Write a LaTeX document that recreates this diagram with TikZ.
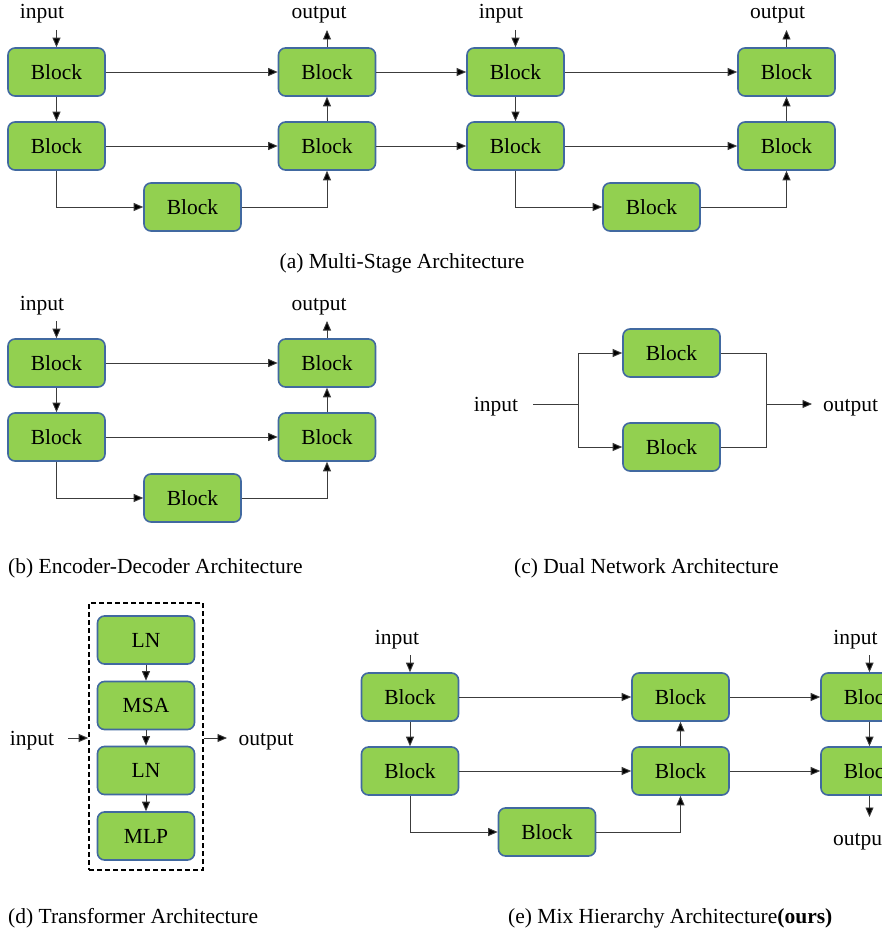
\documentclass[tikz,border=0pt]{standalone}
\usepackage{fontspec}
\setmainfont{Liberation Serif}
\usetikzlibrary{arrows.meta}
\definecolor{blkfill}{RGB}{146,208,80}
\definecolor{blkedge}{RGB}{65,105,160}
\definecolor{lnc}{RGB}{60,60,60}
\newcommand{\fs}{\fontsize{21.5}{24}\selectfont}
\tikzset{
  blk/.style={draw=blkedge, fill=blkfill, line width=1.6, rounded corners=7,
    minimum width=97, minimum height=48, inner sep=0, font=\fs},
  con/.style={draw=lnc, line width=0.9},
  arr/.style={con, -{Triangle[length=9.5,width=8,fill=black]}},
  lbl/.style={inner sep=0, anchor=base, font=\fs},
  lblw/.style={inner sep=0, anchor=base west, font=\fs},
  dbox/.style={draw=black, dash pattern=on 5 off 3, line width=1.6,
    minimum width=114, minimum height=267, inner sep=0}
}
\begin{document}
\begin{tikzpicture}[x=1pt,y=-1pt]
\clip (0,0) rectangle (882,934);
% ---------------- (a) ----------------
\node[blk] (a1) at (56.5,72) {Block};
\node[blk] (a2) at (56.5,146) {Block};
\node[blk] (a3) at (192.5,207) {Block};
\node[blk] (a4) at (327,72) {Block};
\node[blk] (a5) at (327,146) {Block};
\node[blk] (a6) at (515.5,72) {Block};
\node[blk] (a7) at (515.5,146) {Block};
\node[blk] (a8) at (651.5,207) {Block};
\node[blk] (a9) at (786.5,72) {Block};
\node[blk] (a10) at (786.5,146) {Block};
\node[lbl] (ain) at (42,19) {input};
\node[lbl] (aout) at (319,19) {output};
\node[lbl] (ain2) at (501,19) {input};
\node[lbl] (aout2) at (777.5,19) {output};
\coordinate (ainc) at (56.5,30);
\coordinate (aoutc) at (327,30);
\coordinate (ain2c) at (515.5,30);
\coordinate (aout2c) at (786.5,30);
\draw[arr] (ainc) -- (a1.north);
\draw[arr] (a1.south) -- (a2.north);
\draw[arr] (a1.east) -- (a4.west);
\draw[arr] (a2.east) -- (a5.west);
\draw[arr] (a2.south) |- (a3.west);
\draw[arr] (a3.east) -| (a5.south);
\draw[arr] (a5.north) -- (a4.south);
\draw[arr] (a4.north) -- (aoutc);
\draw[arr] (a4.east) -- (a6.west);
\draw[arr] (a5.east) -- (a7.west);
\draw[arr] (ain2c) -- (a6.north);
\draw[arr] (a6.south) -- (a7.north);
\draw[arr] (a6.east) -- (a9.west);
\draw[arr] (a7.east) -- (a10.west);
\draw[arr] (a7.south) |- (a8.west);
\draw[arr] (a8.east) -| (a10.south);
\draw[arr] (a10.north) -- (a9.south);
\draw[arr] (a9.north) -- (aout2c);
\node[lbl] (capa) at (402,268) {(a) Multi-Stage Architecture};
% ---------------- (b) ----------------
\node[blk] (b1) at (56.5,363) {Block};
\node[blk] (b2) at (56.5,437) {Block};
\node[blk] (b3) at (192.5,498) {Block};
\node[blk] (b4) at (327,363) {Block};
\node[blk] (b5) at (327,437) {Block};
\node[lbl] (bin) at (42,310) {input};
\node[lbl] (bout) at (319,310) {output};
\coordinate (binc) at (56.5,321);
\coordinate (boutc) at (327,321);
\draw[arr] (binc) -- (b1.north);
\draw[arr] (b1.south) -- (b2.north);
\draw[arr] (b1.east) -- (b4.west);
\draw[arr] (b2.east) -- (b5.west);
\draw[arr] (b2.south) |- (b3.west);
\draw[arr] (b3.east) -| (b5.south);
\draw[arr] (b5.north) -- (b4.south);
\draw[arr] (b4.north) -- (boutc);
\node[lblw] (capb) at (8,573) {(b) Encoder-Decoder Architecture};
% ---------------- (c) ----------------
\node[blk] (c1) at (671.5,353) {Block};
\node[blk] (c2) at (671.5,447) {Block};
\node[lbl] (cin) at (496,411) {input};
\node[lblw] (cout) at (823,411) {output};
\coordinate (cinc) at (533,404);
\coordinate (csplit) at (578,404);
\coordinate (cmerge) at (766,404);
\coordinate (coutc) at (812,404);
\draw[con] (cinc) -- (csplit);
\draw[arr] (csplit) |- (c1.west);
\draw[arr] (csplit) |- (c2.west);
\draw[con] (c1.east) -| (cmerge);
\draw[con] (c2.east) -| (cmerge);
\draw[arr] (cmerge) -- (coutc);
\node[lblw] (capc) at (514,573) {(c) Dual Network Architecture};
% ---------------- (d) ----------------
\node[dbox] (dbx) at (146,736.5) {};
\node[blk] (d1) at (146,640) {LN};
\node[blk] (d2) at (146,705.5) {MSA};
\node[blk] (d3) at (146,770.5) {LN};
\node[blk] (d4) at (146,836) {MLP};
\draw[arr] (d1.south) -- (d2.north);
\draw[arr] (d2.south) -- (d3.north);
\draw[arr] (d3.south) -- (d4.north);
\node[lbl] (din) at (32,745) {input};
\node[lbl] (dout) at (266,745) {output};
\coordinate (dinc) at (68,738);
\coordinate (doutc) at (227,738);
\draw[arr] (dinc) -- (dinc -| dbx.west);
\draw[arr] (doutc -| dbx.east) -- (doutc);
\node[lblw] (capd) at (8,923) {(d) Transformer Architecture};
% ---------------- (e) ----------------
\node[blk] (e1) at (410,697) {Block};
\node[blk] (e2) at (410,771) {Block};
\node[blk] (e3) at (547,832) {Block};
\node[blk] (e4) at (680.5,697) {Block};
\node[blk] (e5) at (680.5,771) {Block};
\node[blk] (r1) at (869.5,697) {Block};
\node[blk] (r2) at (869.5,771) {Block};
\node[lbl] (ein) at (397,644) {input};
\node[lbl] (ein2) at (855.5,644) {input};
\node[lblw] (eout) at (833,845) {output};
\coordinate (einc) at (410,655);
\coordinate (ein2c) at (869.5,655);
\coordinate (eoutc) at (869.5,817);
\draw[arr] (einc) -- (e1.north);
\draw[arr] (e1.south) -- (e2.north);
\draw[arr] (e1.east) -- (e4.west);
\draw[arr] (e2.east) -- (e5.west);
\draw[arr] (e2.south) |- (e3.west);
\draw[arr] (e3.east) -| (e5.south);
\draw[arr] (e5.north) -- (e4.south);
\draw[arr] (e4.east) -- (r1.west);
\draw[arr] (e5.east) -- (r2.west);
\draw[arr] (ein2c) -- (r1.north);
\draw[arr] (r1.south) -- (r2.north);
\draw[arr] (r2.south) -- (eoutc);
\node[lblw] (cape) at (508,923) {(e) Mix Hierarchy Architecture\textbf{(ours)}};
\end{tikzpicture}
\end{document}
